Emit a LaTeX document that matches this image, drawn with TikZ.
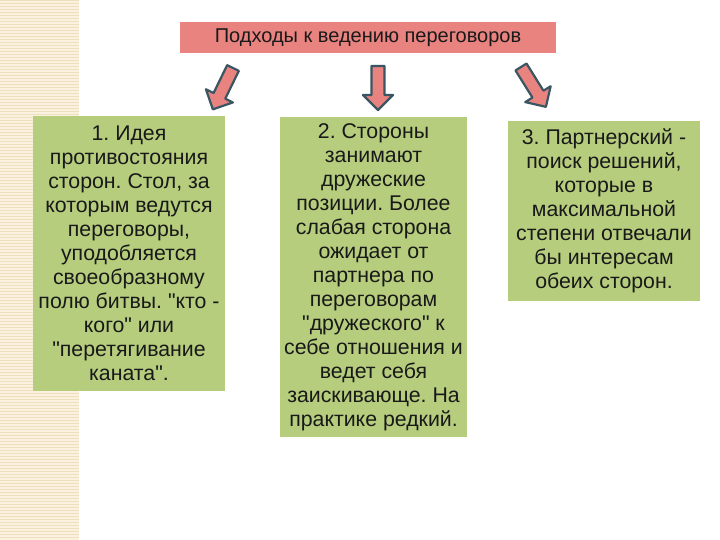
\documentclass[tikz,border=0pt]{standalone}
\usepackage{fontspec}
\newfontfamily\arialike{Liberation Sans}
\definecolor{titlefill}{RGB}{232,131,128}
\definecolor{boxfill}{RGB}{182,205,125}
\definecolor{arrowline}{RGB}{58,86,98}
\definecolor{stripA}{RGB}{238,224,190}
\definecolor{stripB}{RGB}{250,242,222}
\definecolor{txt}{RGB}{25,25,25}
\tikzset{
  titlebox/.style={draw=none, fill=titlefill, minimum width=376pt, minimum height=31pt, inner sep=0pt, text=txt, font=\arialike\fontsize{20}{22}\selectfont},
  greenbox/.style={draw=none, fill=boxfill, inner sep=0pt, align=center, text=txt, font=\arialike\fontsize{21.3}{24}\selectfont},
  blockarrow/.style={fill=titlefill, draw=arrowline, line width=2.2pt, line join=round}
}
\newcommand{\blockarr}[4]{% x,y of tail, rotation angle (0 = pointing down), length
  \begin{scope}[shift={(#1,#2)}, rotate=#3]
    \draw[blockarrow] (-6.5,0) -- (6.5,0) -- (6.5,#4-15) -- (15,#4-15) -- (0,#4) -- (-15,#4-15) -- (-6.5,#4-15) -- cycle;
  \end{scope}}
\begin{document}
\frenchspacing
\begin{tikzpicture}[x=1pt,y=-1pt]
\useasboundingbox (0,0) rectangle (720,540);
\fill[white] (0,0) rectangle (720,540);
% left striped strip
\fill[stripB] (0,0) rectangle (79,540);
\foreach \i in {0,...,179}{
  \fill[stripA] (0,{\i*3}) rectangle (79,{\i*3+1.2});
}
% title
\node[titlebox] (title) at (368,37.5) {Подходы к ведению переговоров};
% boxes
\node[greenbox, minimum width=192pt, minimum height=275pt] (b1) at (129,253.5)
 {1. Идея\\противостояния\\сторон. Стол, за\\которым ведутся\\переговоры,\\уподобляется\\своеобразному\\полю битвы. "кто -\\кого" или\\"перетягивание\\каната".};
\node[greenbox, minimum width=187pt, minimum height=320pt] (b2) at (373.5,277)
 {2. Стороны\\занимают\\дружеские\\позиции. Более\\слабая сторона\\ожидает от\\партнера по\\переговорам\\"дружеского" к\\себе отношения и\\ведет себя\\заискивающе. На\\практике редкий.};
\node[greenbox, minimum width=192pt, minimum height=180pt] (b3) at (604,211)
 {3. Партнерский -\\поиск решений,\\которые в\\максимальной\\степени отвечали\\бы интересам\\обеих сторон.};
% arrows (title -> boxes)
\blockarr{233}{68}{-26}{46}
\blockarr{378}{66}{0}{44}
\blockarr{521}{67}{32}{47}
\end{tikzpicture}
\end{document}
